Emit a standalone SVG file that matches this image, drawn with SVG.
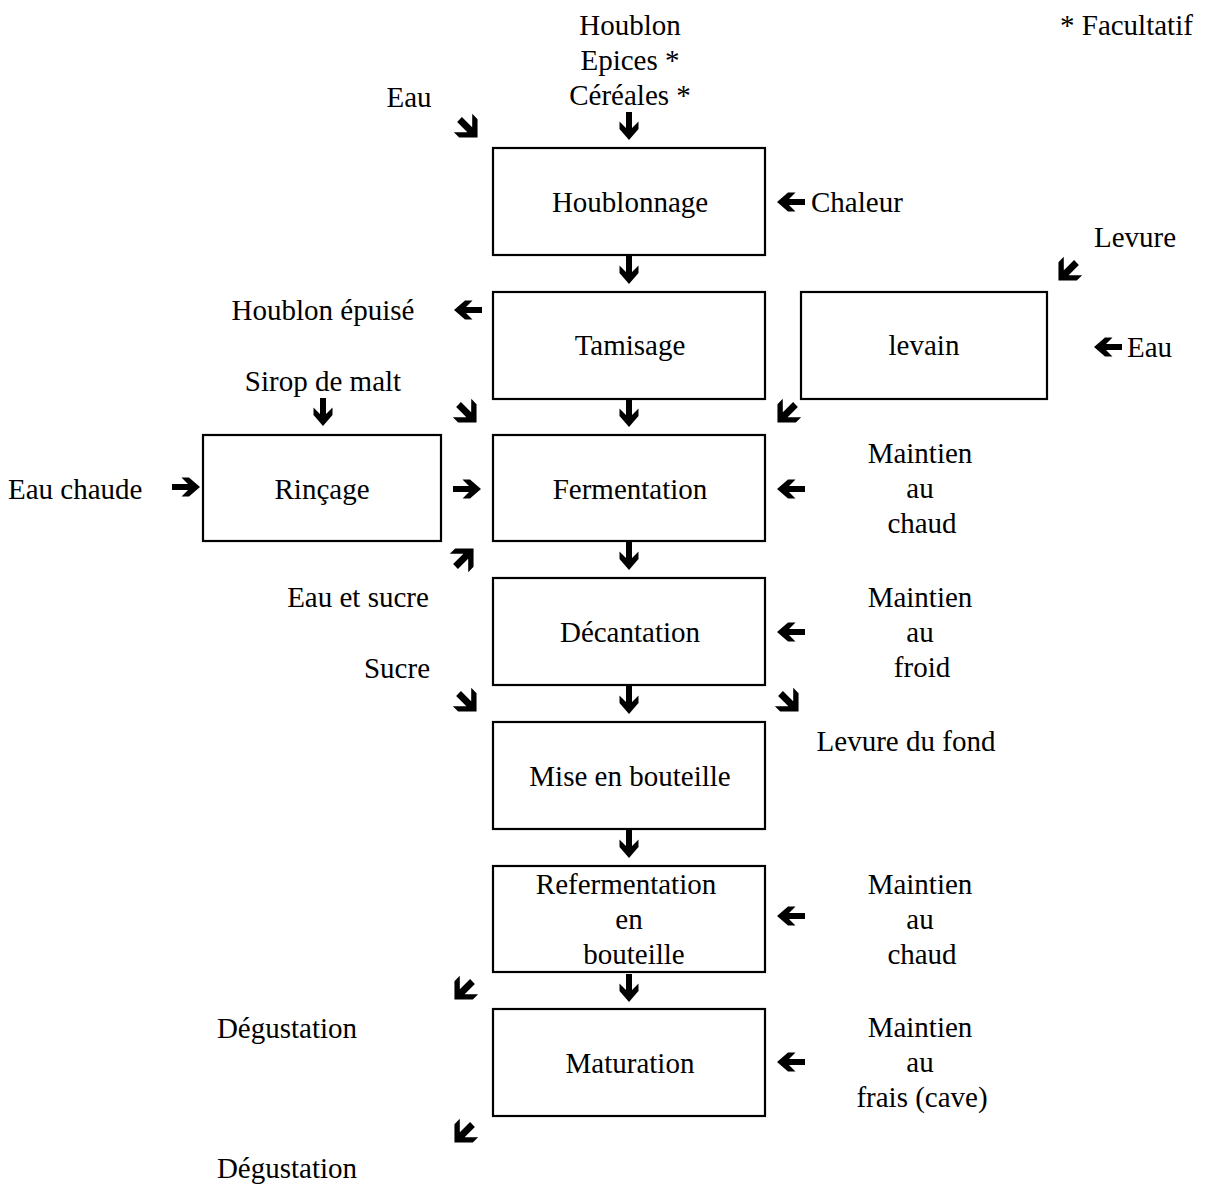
<svg xmlns="http://www.w3.org/2000/svg" width="1205" height="1184" viewBox="0 0 1205 1184">
<style>
.c{text-anchor:middle}
.box{fill:#fff;stroke:#000;stroke-width:2.2}
</style>
<defs>
<polygon id="ar" points="-14,-3 2,-3 -4.5,-9.5 3,-9.5 14,0 3,9.5 -4.5,9.5 2,3 -14,3" fill="#000"/>
<polygon id="ad" points="-12,-3.4 2.5,-3.4 -7,-13 0.5,-13 13.5,0 0.5,13 -7,13 2.5,3.4 -12,3.4" fill="#000"/>
</defs>
<rect width="1205" height="1184" fill="#fff"/>

<g font-family="Liberation Serif, Times New Roman, serif" font-size="29">
<g id="n-houblonnage"><rect class="box" x="493" y="148" width="272" height="107"/><text class="c" x="630" y="212">Houblonnage</text></g>
<g id="n-tamisage"><rect class="box" x="493" y="292" width="272" height="107"/><text class="c" x="630" y="355">Tamisage</text></g>
<g id="n-levain"><rect class="box" x="801" y="292" width="246" height="107"/><text class="c" x="924" y="355">levain</text></g>
<g id="n-rincage"><rect class="box" x="203" y="435" width="238" height="106"/><text class="c" x="322" y="499">Rinçage</text></g>
<g id="n-fermentation"><rect class="box" x="493" y="435" width="272" height="106"/><text class="c" x="630" y="499">Fermentation</text></g>
<g id="n-decantation"><rect class="box" x="493" y="578" width="272" height="107"/><text class="c" x="630" y="642">Décantation</text></g>
<g id="n-mise"><rect class="box" x="493" y="722" width="272" height="107"/><text class="c" x="630" y="786">Mise en bouteille</text></g>
<g id="n-referm"><rect class="box" x="493" y="866" width="272" height="106"/><text class="c" x="626" y="894">Refermentation</text><text class="c" x="629" y="929">en</text><text class="c" x="634" y="964">bouteille</text></g>
<g id="n-maturation"><rect class="box" x="493" y="1009" width="272" height="107"/><text class="c" x="630" y="1073">Maturation</text></g>

<g id="labels">
<text x="1060" y="35">* Facultatif</text>
<text class="c" x="630" y="35">Houblon</text>
<text class="c" x="630" y="70">Epices *</text>
<text class="c" x="630" y="105">Céréales *</text>
<text class="c" x="409" y="107">Eau</text>
<text x="811" y="212">Chaleur</text>
<text class="c" x="1135" y="247">Levure</text>
<text class="c" x="323" y="320">Houblon épuisé</text>
<text x="1127" y="357">Eau</text>
<text class="c" x="323" y="391">Sirop de malt</text>
<text x="8" y="499">Eau chaude</text>
<text class="c" x="920" y="463">Maintien</text>
<text class="c" x="920" y="498">au</text>
<text class="c" x="922" y="533">chaud</text>
<text class="c" x="358" y="607">Eau et sucre</text>
<text class="c" x="920" y="607">Maintien</text>
<text class="c" x="920" y="642">au</text>
<text class="c" x="922" y="677">froid</text>
<text class="c" x="397" y="678">Sucre</text>
<text class="c" x="906" y="751">Levure du fond</text>
<text class="c" x="920" y="894">Maintien</text>
<text class="c" x="920" y="929">au</text>
<text class="c" x="922" y="964">chaud</text>
<text class="c" x="287" y="1038">Dégustation</text>
<text class="c" x="920" y="1037">Maintien</text>
<text class="c" x="920" y="1072">au</text>
<text class="c" x="922" y="1107">frais (cave)</text>
<text class="c" x="287" y="1178">Dégustation</text>
</g>
</g>

<g id="connectors">
<use href="#ad" transform="translate(468,128) rotate(45)"/>
<use href="#ar" transform="translate(629,126) rotate(90)"/>
<use href="#ar" transform="translate(791,202) rotate(180)"/>
<use href="#ad" transform="translate(1068,271) rotate(135)"/>
<use href="#ar" transform="translate(629,270) rotate(90)"/>
<use href="#ar" transform="translate(468,310) rotate(180)"/>
<use href="#ar" transform="translate(1108,347) rotate(180)"/>
<use href="#ar" transform="translate(323,412) rotate(90)"/>
<use href="#ad" transform="translate(467,413) rotate(45)"/>
<use href="#ar" transform="translate(629,413) rotate(90)"/>
<use href="#ad" transform="translate(787,413) rotate(135)"/>
<use href="#ar" transform="translate(186,487)"/>
<use href="#ar" transform="translate(467,489)"/>
<use href="#ar" transform="translate(791,489) rotate(180)"/>
<use href="#ad" transform="translate(464,558) rotate(-45)"/>
<use href="#ar" transform="translate(629,556) rotate(90)"/>
<use href="#ar" transform="translate(791,632) rotate(180)"/>
<use href="#ad" transform="translate(467,702) rotate(45)"/>
<use href="#ar" transform="translate(629,700) rotate(90)"/>
<use href="#ad" transform="translate(789,702) rotate(45)"/>
<use href="#ar" transform="translate(629,844) rotate(90)"/>
<use href="#ar" transform="translate(791,916) rotate(180)"/>
<use href="#ad" transform="translate(464,990) rotate(135)"/>
<use href="#ar" transform="translate(629,988) rotate(90)"/>
<use href="#ar" transform="translate(791,1062) rotate(180)"/>
<use href="#ad" transform="translate(464,1133) rotate(135)"/>
</g>
</svg>
